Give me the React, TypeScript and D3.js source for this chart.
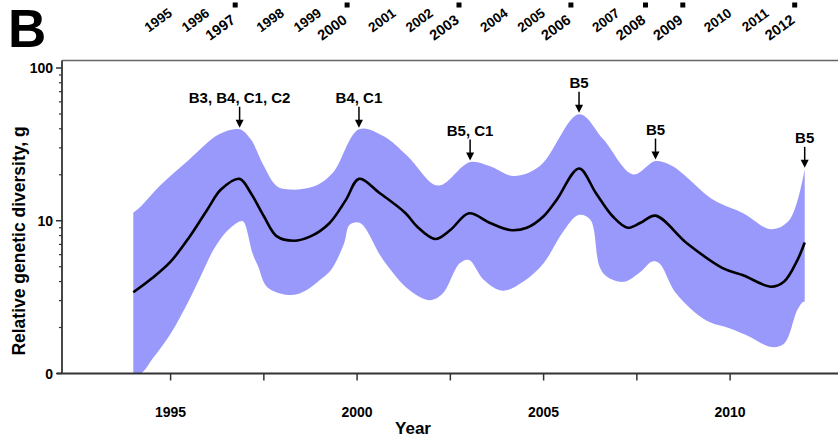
import React, { useEffect, useRef } from "react";
import * as d3 from "d3";

// median estimate of g (black line)
const lineYears = [1994, 1994.5, 1995, 1995.5, 1996, 1996.35, 1996.85, 1997.15, 1997.5, 1997.85, 1998.3, 1998.75, 1999.25, 1999.7, 2000.05, 2000.6, 2001.3, 2001.6, 2002.1, 2002.5, 2003.0, 2003.55, 2004.1, 2004.55, 2005.0, 2005.35, 2005.95, 2006.4, 2006.85, 2007.25, 2007.6, 2008.0, 2008.85, 2009.8, 2010.35, 2011.1, 2011.45, 2011.8, 2012];
const lineValues = [3.4, 4.2, 5.4, 7.8, 12, 16, 18.8, 15.2, 10.7, 7.9, 7.4, 7.9, 9.6, 13.7, 18.8, 15.2, 11.2, 9.2, 7.6, 8.7, 11.2, 9.7, 8.7, 9, 10.7, 13.7, 22, 15.2, 10.7, 9, 9.7, 10.8, 7.1, 4.9, 4.4, 3.7, 4, 5.5, 7.2];

// 95% HPD band, upper edge
const upperYears = [1994, 1994.2, 1994.7, 1995.5, 1996.3, 1996.85, 1997.15, 1997.5, 1997.85, 1998.2, 1998.85, 1999.35, 2000.05, 2000.7, 2001.35, 2002.05, 2002.3, 2003.03, 2003.55, 2004.2, 2004.9, 2005.95, 2006.6, 2007.4, 2008.0, 2008.45, 2009.55, 2010.35, 2011.1, 2011.6, 2012];
const upperValues = [11.3, 12.4, 16.8, 25.2, 36.8, 39.7, 34.1, 22.8, 16.8, 16, 16.8, 20.6, 39.7, 35.9, 26.5, 17.3, 17.3, 24.2, 22.8, 19.6, 22.8, 49.8, 34.1, 20.1, 24.6, 22.8, 13.7, 11.2, 8.8, 10.2, 21.7];

// 95% HPD band, lower edge
const lowerYears = [1994, 1994.2, 1994.55, 1995, 1995.45, 1995.8, 1996.15, 1996.5, 1996.85, 1996.95, 1997.2, 1997.35, 1997.6, 1998.25, 1998.65, 1999.0, 1999.3, 1999.65, 1999.8, 2000.08, 2000.7, 2001.4, 2001.95, 2002.3, 2002.75, 2003.0, 2003.4, 2003.9, 2004.45, 2005.0, 2005.5, 2005.93, 2006.25, 2006.5, 2006.7, 2007.15, 2007.6, 2007.9, 2008.1, 2008.55, 2009.35, 2010.0, 2010.55, 2011.1, 2011.45, 2011.8, 2011.95, 2012];
const lowerValues = [1, 1, 1.28, 1.82, 2.87, 4.3, 6.45, 8.5, 9.9, 9.9, 6.1, 5, 3.66, 3.26, 3.52, 4.09, 4.76, 7.1, 9.4, 9.66, 5.54, 3.52, 3.02, 3.35, 5.27, 5.54, 4.09, 3.48, 3.98, 5.27, 8.3, 10.9, 10.2, 5, 4.3, 3.98, 4.64, 5.4, 5.27, 3.35, 2.23, 1.97, 1.73, 1.49, 1.57, 2.6, 2.94, 2.95];

// arrows above the band
const annoLabels = ["B3, B4, C1, C2", "B4, C1", "B5, C1", "B5", "B5", "B5"];
const annoYears = [1996.85, 2000.05, 2003.03, 2005.95, 2008.0, 2012.0];

// sampling years along the top
const topYears = d3.range(1995, 2013);
const sampledYears = [1997, 2000, 2003, 2006, 2008, 2009, 2012];

const xTicks = [1995, 1997.5, 2000, 2002.5, 2005, 2007.5, 2010];
const xTickLabels = [1995, 2000, 2005, 2010];
const yTickLabels = [1, 10, 100];

const W = 838;
const H = 442;
const font = "Arial, 'Liberation Sans', sans-serif";

export default function App() {
  const ref = useRef<SVGSVGElement>(null);

  useEffect(() => {
    const svg = d3.select(ref.current);
    svg.selectAll("*").remove();

    const x = d3.scaleLinear().domain([1995, 2010]).range([170.6, 730.1]);
    const y = d3.scaleLog().domain([1, 100]).range([373.5, 68]);
    const left = 62;
    const top = 60.5;
    const bottom = 373.5;

    const upperPts: [number, number][] = upperYears.map((d, i) => [x(d), y(upperValues[i])]);
    const lowerPts: [number, number][] = lowerYears.map((d, i) => [x(d), y(lowerValues[i])]).reverse() as [number, number][];
    const ln = d3.line().curve(d3.curveCatmullRom.alpha(0.5));
    const bandPath = ln(upperPts) + "L" + (ln(lowerPts) as string).slice(1) + "Z";

    svg.append("path").attr("d", bandPath).attr("fill", "#9999fb");

    svg
      .append("path")
      .datum(lineYears.map((d, i) => [x(d), y(lineValues[i])] as [number, number]))
      .attr("d", ln)
      .attr("fill", "none")
      .attr("stroke", "#000")
      .attr("stroke-width", 2.6)
      .attr("stroke-linejoin", "round");

    // frame
    svg.append("line").attr("x1", left).attr("x2", W).attr("y1", top).attr("y2", top)
      .attr("stroke", "#666").attr("stroke-width", 1.5);
    svg.append("line").attr("x1", left).attr("x2", left).attr("y1", top).attr("y2", bottom)
      .attr("stroke", "#333").attr("stroke-width", 1.8);
    svg.append("line").attr("x1", left - 5).attr("x2", W).attr("y1", bottom).attr("y2", bottom)
      .attr("stroke", "#333").attr("stroke-width", 1.8);

    // y axis ticks
    const minor: number[] = [];
    [1, 10].forEach((dec) => d3.range(2, 10).forEach((k) => minor.push(dec * k)));
    const yAx = svg.append("g");
    minor.forEach((v) => {
      yAx.append("line").attr("x1", left - 3).attr("x2", left).attr("y1", y(v)).attr("y2", y(v))
        .attr("stroke", "#333").attr("stroke-width", 1.2);
    });
    yTickLabels.forEach((v) => {
      yAx.append("line").attr("x1", left - 6).attr("x2", left).attr("y1", y(v)).attr("y2", y(v))
        .attr("stroke", "#333").attr("stroke-width", 1.5);
      yAx.append("text").attr("x", left - 9).attr("y", y(v) + 5).attr("text-anchor", "end")
        .attr("font-family", font).attr("font-weight", "bold").attr("font-size", 14)
        .text(v === 1 ? "0" : String(v));
    });

    // x axis ticks
    xTicks.forEach((t) => {
      svg.append("line").attr("x1", x(t)).attr("x2", x(t)).attr("y1", bottom).attr("y2", bottom + 7)
        .attr("stroke", "#333").attr("stroke-width", 1.5);
    });
    xTickLabels.forEach((t) => {
      svg.append("text").attr("x", x(t)).attr("y", 417).attr("text-anchor", "middle")
        .attr("font-family", font).attr("font-weight", "bold").attr("font-size", 14).text(t);
    });

    svg.append("text").attr("x", 413).attr("y", 434).attr("text-anchor", "middle")
      .attr("font-family", font).attr("font-weight", "bold").attr("font-size", 17).text("Year");
    svg.append("text").attr("transform", "translate(25,241) rotate(-90)").attr("text-anchor", "middle")
      .attr("font-family", font).attr("font-weight", "bold").attr("font-size", 17.5)
      .text("Relative genetic diversity, g");

    // panel letter
    svg.append("text").attr("x", 8).attr("y", 47).attr("font-family", font).attr("font-weight", "bold")
      .attr("font-size", 53).text("B");

    // top year labels
    topYears.forEach((yr) => {
      const marked = sampledYears.includes(yr);
      const ax = marked ? x(yr) - 9 : x(yr) + 2.5;
      const ay = marked ? 22 : 15;
      svg.append("text")
        .attr("transform", `translate(${ax},${ay}) rotate(-36)`)
        .attr("text-anchor", "end")
        .attr("font-family", font).attr("font-weight", "bold")
        .attr("font-size", marked ? 14.5 : 13.5)
        .text(yr);
      if (marked) {
        svg.append("rect").attr("x", x(yr) - 12.5).attr("y", 2.5).attr("width", 5).attr("height", 5).attr("fill", "#000");
      }
    });

    // annotations
    annoYears.forEach((yr, i) => {
      const j = d3.bisectLeft(upperYears, yr - 0.001);
      const v = upperValues[Math.min(j, upperValues.length - 1)];
      const tip = y(v) - 1.5;
      const base = tip - 21;
      const cx = x(yr);
      svg.append("line").attr("x1", cx).attr("x2", cx).attr("y1", base).attr("y2", tip - 6)
        .attr("stroke", "#000").attr("stroke-width", 1.5);
      svg.append("path").attr("d", `M${cx - 4},${tip - 8}L${cx + 4},${tip - 8}L${cx},${tip}Z`).attr("fill", "#000");
      svg.append("text").attr("x", cx).attr("y", base - 4).attr("text-anchor", "middle")
        .attr("font-family", font).attr("font-weight", "bold").attr("font-size", 15).text(annoLabels[i]);
    });
  }, []);

  return (
    <svg
      ref={ref}
      width={W}
      height={H}
      style={{ position: "absolute", left: 0, top: 0, background: "#fff" }}
    />
  );
}
